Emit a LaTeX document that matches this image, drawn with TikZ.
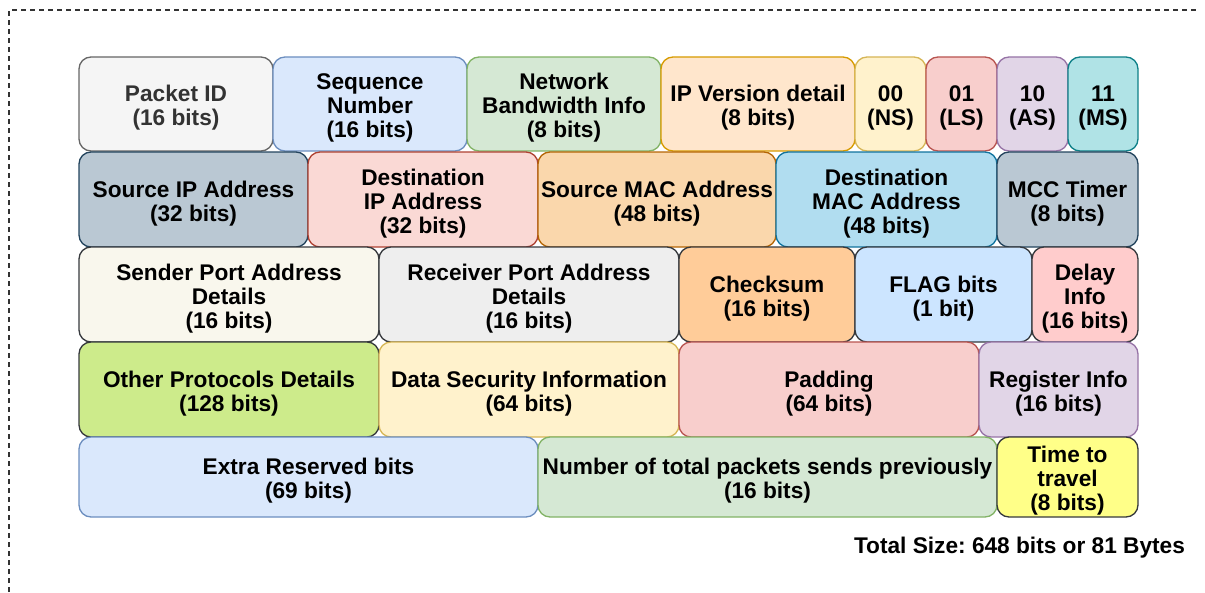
\documentclass[tikz,border=0pt]{standalone}
\usepackage{fontspec}
\setmainfont{Liberation Sans}
\usepackage{tikz}
\frenchspacing

\definecolor{gyF}{HTML}{F5F5F5} \definecolor{gyD}{HTML}{666666}
\definecolor{blF}{HTML}{DAE8FC} \definecolor{blD}{HTML}{6C8EBF}
\definecolor{gnF}{HTML}{D5E8D4} \definecolor{gnD}{HTML}{82B366}
\definecolor{orF}{HTML}{FFE6CC} \definecolor{orD}{HTML}{D79B00}
\definecolor{ylF}{HTML}{FFF2CC} \definecolor{ylD}{HTML}{D6B656}
\definecolor{rdF}{HTML}{F8CECC} \definecolor{rdD}{HTML}{B85450}
\definecolor{ppF}{HTML}{E1D5E7} \definecolor{ppD}{HTML}{9673A6}
\definecolor{tlF}{HTML}{B0E3E6} \definecolor{tlD}{HTML}{0E8088}
\definecolor{slF}{HTML}{BAC8D3} \definecolor{slD}{HTML}{23445D}
\definecolor{saF}{HTML}{FAD9D5} \definecolor{saD}{HTML}{AE4132}
\definecolor{tnF}{HTML}{FAD7AC} \definecolor{tnD}{HTML}{B46504}
\definecolor{skF}{HTML}{B1DDF0} \definecolor{skD}{HTML}{10739E}
\definecolor{dkD}{HTML}{36393D}
\definecolor{crF}{HTML}{F9F7ED}
\definecolor{svF}{HTML}{EEEEEE}
\definecolor{pcF}{HTML}{FFCC99}
\definecolor{icF}{HTML}{CCE5FF}
\definecolor{pkF}{HTML}{FFCCCC}
\definecolor{lmF}{HTML}{CDEB8B}
\definecolor{lnF}{HTML}{FFFF88}
\definecolor{pidtext}{HTML}{333333}

\tikzstyle{field} = [rounded corners=9pt, line width=1pt, align=center, inner sep=0pt,
  font=\bfseries\fontsize{17}{18}\selectfont]
\tikzstyle{greybox} = [fill=gyF, draw=gyD, text=pidtext]
\tikzstyle{bluebox} = [fill=blF, draw=blD]
\tikzstyle{greenbox} = [fill=gnF, draw=gnD]
\tikzstyle{orangebox} = [fill=orF, draw=orD]
\tikzstyle{yellowbox} = [fill=ylF, draw=ylD]
\tikzstyle{rosebox} = [fill=rdF, draw=rdD]
\tikzstyle{purplebox} = [fill=ppF, draw=ppD]
\tikzstyle{tealbox} = [fill=tlF, draw=tlD]
\tikzstyle{slatebox} = [fill=slF, draw=slD]
\tikzstyle{salmonbox} = [fill=saF, draw=saD]
\tikzstyle{tanbox} = [fill=tnF, draw=tnD]
\tikzstyle{skybox} = [fill=skF, draw=skD]
\tikzstyle{creambox} = [fill=crF, draw=dkD]
\tikzstyle{silverbox} = [fill=svF, draw=dkD]
\tikzstyle{peachbox} = [fill=pcF, draw=dkD]
\tikzstyle{icebox} = [fill=icF, draw=dkD]
\tikzstyle{pinkbox} = [fill=pkF, draw=dkD]
\tikzstyle{limebox} = [fill=lmF, draw=dkD]
\tikzstyle{lemonbox} = [fill=lnF, draw=dkD]

% name, left, right, top, bottom, look, text (the strut pushes the lines down a little)
\newcommand{\fld}[7]{\node [field, #6, minimum width={(#3-#2)*0.75pt},
  minimum height={(#5-#4)*0.75pt}] (#1) at ({(#2+#3)/2}, {(#4+#5)/2}) {\rule{0pt}{18pt}#7};}

\begin{document}
\begin{tikzpicture}[x=0.75pt, y=-0.75pt]
  \useasboundingbox (0,0) rectangle (1205,592);
  \draw[line width=0.8pt, draw=black!80, dash pattern=on 3.75pt off 3pt] (9,592) -- (9,10) -- (1200,10);

  % first row
  \fld{pid}{79}{273}{57}{151}{greybox}{Packet ID\\(16 bits)}
  \fld{seq}{273}{467}{57}{151}{bluebox}{Sequence\\Number\\(16 bits)}
  \fld{bw}{467}{661}{57}{151}{greenbox}{Network\\Bandwidth Info\\(8 bits)}
  \fld{ipv}{661}{855}{57}{151}{orangebox}{IP Version detail\\(8 bits)}
  \fld{ns}{855}{926}{57}{151}{yellowbox}{00\\(NS)}
  \fld{ls}{926}{997}{57}{151}{rosebox}{01\\(LS)}
  \fld{as}{997}{1068}{57}{151}{purplebox}{10\\(AS)}
  \fld{ms}{1068}{1138}{57}{151}{tealbox}{11\\(MS)}

  % second row
  \fld{srcip}{79}{308}{152}{247}{slatebox}{Source IP Address\\(32 bits)}
  \fld{dstip}{308}{538}{152}{247}{salmonbox}{Destination\\IP Address\\(32 bits)}
  \fld{srcmac}{538}{776}{152}{247}{tanbox}{Source MAC Address\\(48 bits)}
  \fld{dstmac}{776}{997}{152}{247}{skybox}{Destination\\MAC Address\\(48 bits)}
  \fld{mcc}{997}{1138}{152}{247}{slatebox}{MCC Timer\\(8 bits)}

  % third row
  \fld{sport}{79}{379}{247}{342}{creambox}{Sender Port Address\\Details\\(16 bits)}
  \fld{rport}{379}{679}{247}{342}{silverbox}{Receiver Port Address\\Details\\(16 bits)}
  \fld{csum}{679}{855}{247}{342}{peachbox}{Checksum\\(16 bits)}
  \fld{flag}{855}{1032}{247}{342}{icebox}{FLAG bits\\(1 bit)}
  \fld{delay}{1032}{1138}{247}{342}{pinkbox}{Delay\\Info\\(16 bits)}

  % fourth row
  \fld{proto}{79}{379}{342}{437}{limebox}{Other Protocols Details\\(128 bits)}
  \fld{sec}{379}{679}{342}{437}{yellowbox}{Data Security Information\\(64 bits)}
  \fld{pad}{679}{979}{342}{437}{rosebox}{Padding\\(64 bits)}
  \fld{reg}{979}{1138}{342}{437}{purplebox}{Register Info\\(16 bits)}

  % last row
  \fld{extra}{79}{538}{437}{517}{bluebox}{Extra Reserved bits\\(69 bits)}
  \fld{prev}{538}{997}{437}{517}{greenbox}{Number of total packets sends previously\\(16 bits)}
  \fld{ttl}{997}{1138}{437}{517}{lemonbox}{Time to\\travel\\(8 bits)}

  \node [font=\bfseries\fontsize{17}{18}\selectfont, inner sep=0pt] (total) at (1019.5,548) {Total Size: 648 bits or 81 Bytes};
\end{tikzpicture}
\end{document}
